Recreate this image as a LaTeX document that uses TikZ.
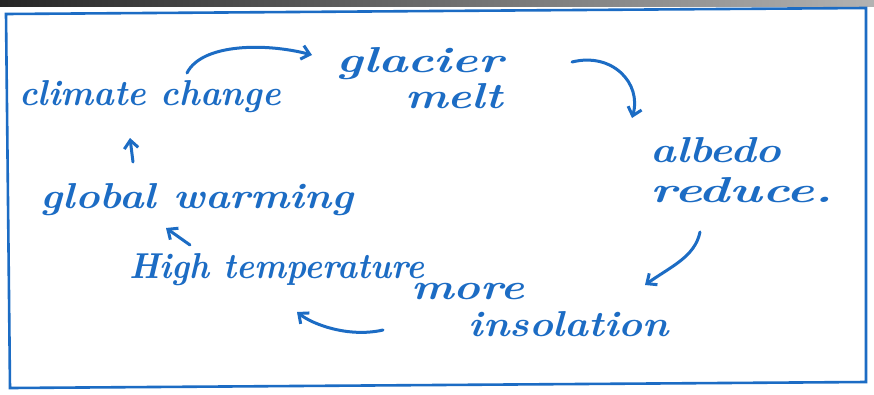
\documentclass[tikz,border=0pt]{standalone}
\usetikzlibrary{arrows.meta}
\definecolor{ink}{RGB}{28,108,196}
\newcommand{\hwide}[2]{\scalebox{#1}[1]{#2}}
\begin{document}
\begin{tikzpicture}[x=1pt,y=-1pt,
  lbl/.style={text=ink,font=\fontsize{36}{36}\selectfont\bfseries\itshape,inner sep=0pt,align=left},
  flow/.style={draw=ink,line width=3pt,line cap=round,-{Straight Barb[length=8pt,width=14pt,line width=3pt]}}]
\useasboundingbox (0,0) rectangle (874,394);
\fill[white] (0,0) rectangle (874,394);
\shade[left color=black!85,right color=black!30] (0,0) rectangle (874,6);
% border
\draw[ink,line width=2.6pt] (6,14) -- (866,8) -- (866,382) -- (10,388) -- cycle;
% labels
\node[lbl] (cc) at (150,97) {\hwide{0.97}{climate change}};
\node[lbl] (gm) at (420,78) {\hwide{1.38}{glacier}\\[0pt]\hspace*{1.9em}\hwide{1.25}{melt}};
\node[lbl] (ar) at (742,170) {\hwide{1.2}{albedo}\\[4pt]\hwide{1.45}{reduce.}};
\node[lbl] (mi) at (540,310) {\hwide{1.25}{more}\\[0pt]\hspace*{1.6em}\hwide{1.12}{insolation}};
\node[lbl] (ht) at (277,270) {\hwide{0.94}{High temperature}};
\node[lbl] (gw) at (197,200) {\hwide{1.15}{global warming}};
% connectors
\draw[flow] ([shift={(37,-24)}]cc.center) .. controls +(15,-30) and +(-45,-12) .. ([shift={(-108,-23)}]gm.center);
\draw[flow] ([shift={(152,-16)}]gm.center) .. controls +(40,-10) and +(10,-35) .. ([shift={(-110,-52)}]ar.center);
\draw[flow] ([shift={(-42,62)}]ar.center) .. controls +(-5,25) and +(25,-18) .. ([shift={(105,-25)}]mi.center);
\draw[flow] ([shift={(-157,20)}]mi.center) .. controls +(-35,8) and +(15,12) .. ([shift={(20,42)}]ht.center);
\draw[flow] ([shift={(-87,-25)}]ht.center) -- ([shift={(-31,28)}]gw.center);
\draw[flow] ([shift={(-64,-38)}]gw.center) -- ([shift={(-20,41)}]cc.center);
\end{tikzpicture}
\end{document}
